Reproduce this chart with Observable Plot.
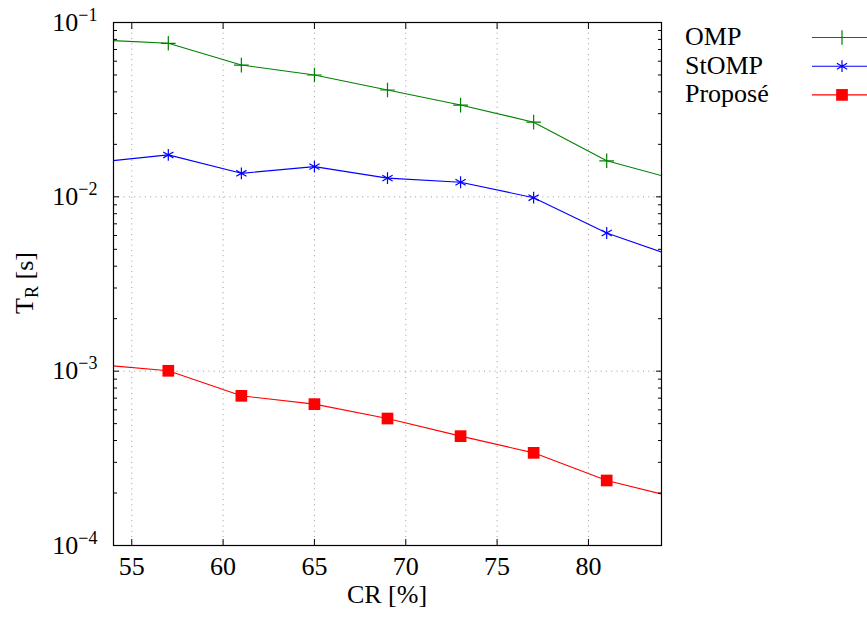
<!DOCTYPE html>
<html><head><meta charset="utf-8">
<script src="https://cdn.jsdelivr.net/npm/d3@7"></script>
<script src="https://cdn.jsdelivr.net/npm/@observablehq/plot@0.6"></script>
<style>
body{margin:0;background:#fff}
#chart svg{font-family:"Liberation Serif",serif;overflow:hidden}
</style>
</head><body><div id="chart"></div>
<script>
// CR [%] positions (first and last lie just outside the visible range and are clipped)
const crValues = [53, 57, 61, 65, 69, 73, 77, 81, 85];
const ompTimes = [0.0796, 0.0760, 0.0570, 0.0500, 0.0410, 0.0336, 0.0268, 0.0161, 0.0124];
const stompTimes = [0.01574, 0.0174, 0.01364, 0.0149, 0.0128, 0.01213, 0.00989, 0.0062, 0.00444];
const proposeTimes = [0.001094, 0.001005, 0.000722, 0.000647, 0.000535, 0.000424, 0.000340, 0.000236, 0.000186];
const seriesNames = ["OMP", "StOMP", "Proposé"];
const seriesColors = ["#008000", "#0000ff", "#ff0000"];
const seriesSymbols = ["plus", "asterisk", "square"];
const xTicks = [55, 60, 65, 70, 75, 80];
const yTicks = [1e-4, 1e-3, 1e-2, 1e-1];
const yTickLabels = ["10^−4", "10^−3", "10^−2", "10^−1"];
const xDomain = [54, 84];
const yDomain = [1e-4, 1e-1];

const seriesValues = [ompTimes, stompTimes, proposeTimes];
const rows = [];
seriesNames.forEach((name, i) => crValues.forEach((x, j) => rows.push({series: name, x, y: seriesValues[i][j]})));
const inside = d => d.x >= xDomain[0] && d.x <= xDomain[1];

const minorY = [];
for (let e = -4; e < -1; e++) for (let m = 2; m <= 9; m++) minorY.push(m * Math.pow(10, e));

const FS = 26;
const symR = {plus: 4.8, asterisk: 5.6, square: 6.6};
const dotMarks = seriesNames.map((name, i) => {
  const data = rows.filter(d => d.series === name && inside(d));
  const s = seriesSymbols[i];
  if (s === "square")
    return Plot.dot(data, {x: "x", y: "y", symbol: "square", fill: seriesColors[i], stroke: "none", r: symR[s]});
  return Plot.dot(data, {x: "x", y: "y", symbol: s, fill: "none", stroke: seriesColors[i], strokeWidth: 1.2, r: symR[s]});
});

const chart = Plot.plot({
  width: 867, height: 618,
  marginLeft: 113, marginRight: 206, marginTop: 22, marginBottom: 73,
  style: {fontFamily: "Liberation Serif", fontSize: FS + "px", background: "white", color: "black", overflow: "hidden"},
  x: {domain: xDomain, label: null},
  y: {type: "log", domain: yDomain, label: null},
  marks: [
    Plot.gridX(xTicks, {stroke: "#999", strokeOpacity: 1, strokeWidth: 1, strokeDasharray: "1,4.3"}),
    Plot.gridY([1e-3, 1e-2], {stroke: "#999", strokeOpacity: 1, strokeWidth: 1, strokeDasharray: "1,4.3"}),
    Plot.line(rows, {x: "x", y: "y", z: "series", stroke: d => seriesColors[seriesNames.indexOf(d.series)], strokeWidth: 1.1, clip: true}),
    ...dotMarks,
    Plot.axisX(xTicks, {anchor: "bottom", tickSize: -6, tickPadding: 17, label: null, fontSize: FS}),
    Plot.axisX(xTicks, {anchor: "top", tickSize: -6, tickFormat: () => "", label: null}),
    Plot.axisY(yTicks, {anchor: "left", tickSize: -6, tickPadding: 22, label: null, fontSize: FS,
      tickFormat: d => yTickLabels[yTicks.indexOf(d)]}),
    Plot.axisY(yTicks, {anchor: "right", tickSize: -6, tickFormat: () => "", label: null}),
    Plot.axisY(minorY, {anchor: "left", tickSize: -4, tickFormat: () => "", label: null}),
    Plot.axisY(minorY, {anchor: "right", tickSize: -4, tickFormat: () => "", label: null}),
    Plot.frame({stroke: "black", strokeWidth: 1.2})
  ]
});
document.getElementById("chart").appendChild(chart);

const svg = d3.select(chart);
// superscripts on y tick labels
svg.selectAll('g[aria-label="y-axis tick label"] text').each(function () {
  const t = this.textContent;
  if (!t.includes("^")) return;
  const [base, exp] = t.split("^");
  const sel = d3.select(this);
  sel.text(base);
  sel.append("tspan").attr("dy", -10).attr("font-size", "18px").text(exp);
});

// axis titles
svg.append("text").attr("x", 387).attr("y", 603).attr("text-anchor", "middle")
  .attr("font-size", FS).attr("fill", "black").text("CR [%]");
const yl = svg.append("text").attr("transform", "translate(33,283) rotate(-90)")
  .attr("text-anchor", "middle").attr("font-size", FS).attr("fill", "black");
yl.append("tspan").text("T");
yl.append("tspan").attr("dy", 5).attr("font-size", "18px").text("R");
yl.append("tspan").attr("dy", -5).text(" [s]");

// legend
const lg = svg.append("g");
seriesNames.forEach((name, i) => {
  const cy = 37.5 + i * 28.7;
  lg.append("text").attr("x", 685).attr("y", cy + 7.5).attr("text-anchor", "start")
    .attr("font-size", FS).attr("fill", "black").text(name);
  lg.append("line").attr("x1", 812).attr("x2", 880).attr("y1", cy).attr("y2", cy)
    .attr("stroke", seriesColors[i]).attr("stroke-width", 1.1);
  const s = seriesSymbols[i];
  const r = symR[s];
  const sym = {plus: d3.symbolPlus, asterisk: d3.symbolAsterisk, square: d3.symbolSquare}[s];
  const p = lg.append("path").attr("transform", `translate(842,${cy})`).attr("d", d3.symbol(sym, Math.PI * r * r)());
  if (s === "square") p.attr("fill", seriesColors[i]);
  else p.attr("fill", "none").attr("stroke", seriesColors[i]).attr("stroke-width", 1.2);
});
</script>
</body></html>
